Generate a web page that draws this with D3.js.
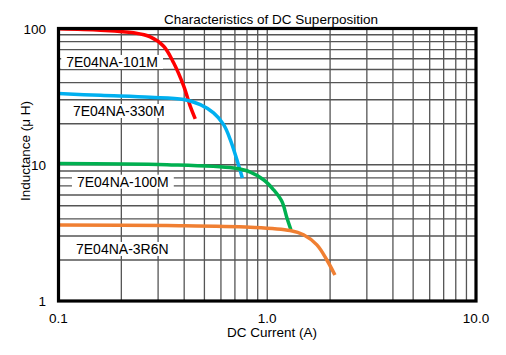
<!DOCTYPE html>
<html><head><meta charset="utf-8">
<script src="https://cdn.jsdelivr.net/npm/d3@7"></script>
<style>body{margin:0;background:#fff}svg{display:block}text{font-family:"Liberation Sans",Arial,sans-serif;fill:#000}</style>
</head><body><svg id="c" width="506" height="355"></svg>
<script>
const title = "Characteristics of DC Superposition";
const xLabel = "DC Current (A)";
const yLabel = "Inductance (\u03bc H)";
const xTicks = [0.1, 1, 10];
const xTickLabels = ["0.1", "1.0", "10.0"];
const yTicks = [1, 10, 100];
const yTickLabels = ["1", "10", "100"];

const s101M_I = [0.1, 0.159, 0.229, 0.275, 0.319, 0.356, 0.398, 0.428, 0.452];
const s101M_L = [99.5, 97.2, 93.0, 86.9, 74.1, 56.0, 37.7, 26.8, 21.7];
const s330M_I = [0.1, 0.159, 0.275, 0.398, 0.478, 0.553, 0.618, 0.665, 0.760];
const s330M_L = [33.3, 32.3, 31.3, 30.1, 27.6, 24.0, 19.7, 15.3, 8.0];
const s100M_I = [0.1, 0.331, 0.690, 0.829, 0.960, 1.072, 1.176, 1.243, 1.298];
const s100M_L = [10.2, 10.0, 9.45, 8.84, 7.76, 6.55, 5.37, 4.06, 3.33];
const s3R6N_I = [0.1, 0.331, 0.829, 1.288, 1.492, 1.729, 1.93, 2.11];
const s3R6N_L = [3.62, 3.58, 3.48, 3.29, 3.06, 2.58, 2.00, 1.55];

const seriesNames = ["7E04NA-101M", "7E04NA-330M", "7E04NA-100M", "7E04NA-3R6N"];
const seriesColors = ["#ff0000", "#00b0f0", "#00b050", "#f07f32"];
const seriesI = [s101M_I, s330M_I, s100M_I, s3R6N_I];
const seriesL = [s101M_L, s330M_L, s100M_L, s3R6N_L];
// label anchor points (data coords: I, L)
const labelI = [0.103, 0.111, 0.116, 0.1148];
const labelL = [56.8, 24.8, 7.51, 2.41];

const svg = d3.select("#c");
const m = {l: 58.5, r: 476, t: 28.5, b: 301};
const x = d3.scaleLog().domain([0.1, 10]).range([m.l, m.r]);
const y = d3.scaleLog().domain([1, 100]).range([m.b, m.t]);

// grid
const xg = [], yg = [];
for (const d of [0.1, 1]) for (let k = 2; k <= 9; k++) xg.push(d * k);
xg.push(1);
for (const d of [1, 10]) for (let k = 2; k <= 9; k++) yg.push(d * k);
yg.push(10);
const g = svg.append("g");
g.selectAll(".vg").data(xg).join("line")
  .attr("x1", d => x(d)).attr("x2", d => x(d)).attr("y1", m.t).attr("y2", m.b)
  .attr("stroke", "#555").attr("stroke-width", 1.3);
g.selectAll(".hg").data(yg).join("line")
  .attr("y1", d => y(d)).attr("y2", d => y(d)).attr("x1", m.l).attr("x2", m.r)
  .attr("stroke", "#555").attr("stroke-width", 1.3);

// label boxes (white behind text)
const lg = svg.append("g");
seriesNames.forEach((n, i) => {
  const t = lg.append("text").attr("x", x(labelI[i]) + 5).attr("y", y(labelL[i]) + 5)
    .attr("font-size", 14).text(n);
  const bb = t.node().getBBox();
  lg.insert("rect", "text").attr("x", bb.x - 5).attr("y", bb.y + 1).attr("width", bb.width + 10)
    .attr("height", bb.height - 2).attr("fill", "#fff");
});

// curves
seriesNames.forEach((n, i) => {
  const pts = seriesI[i].map((v, j) => [v, seriesL[i][j]]);
  svg.append("path").attr("d", d3.line().x(d => x(d[0])).y(d => y(d[1])).curve(d3.curveCatmullRom)(pts))
    .attr("fill", "none").attr("stroke", seriesColors[i]).attr("stroke-width", 3.5);
});

// border
svg.append("rect").attr("x", m.l).attr("y", m.t).attr("width", m.r - m.l).attr("height", m.b - m.t)
  .attr("fill", "none").attr("stroke", "#000").attr("stroke-width", 3.2);

// axes labels
svg.selectAll(".xt").data(xTicks).join("text").attr("x", d => x(d)).attr("y", 323)
  .attr("text-anchor", "middle").attr("font-size", 13.5).text((d, i) => xTickLabels[i]);
svg.selectAll(".yt").data(yTicks).join("text").attr("x", 46).attr("y", d => y(d) + 5)
  .attr("text-anchor", "end").attr("font-size", 13.5).text((d, i) => yTickLabels[i]);

svg.append("text").attr("x", 271).attr("y", 24).attr("text-anchor", "middle").attr("font-size", 13.5).text(title);
svg.append("text").attr("x", 272).attr("y", 337).attr("text-anchor", "middle").attr("font-size", 13.5).text(xLabel);
svg.append("text").attr("transform", "translate(30,151) rotate(-90)").attr("text-anchor", "middle")
  .attr("font-size", 13.5).text(yLabel);
</script></body></html>
